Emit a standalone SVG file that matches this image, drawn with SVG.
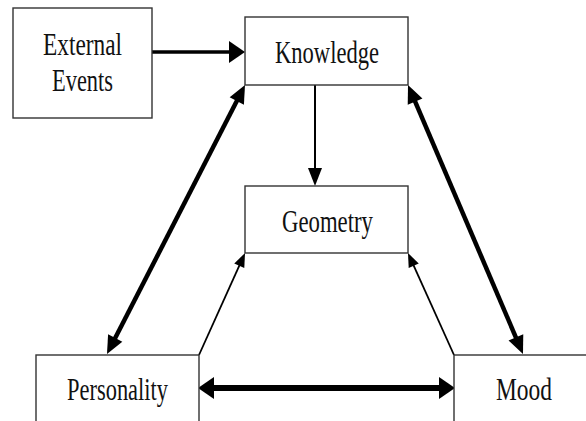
<svg xmlns="http://www.w3.org/2000/svg" width="586" height="421" viewBox="0 0 586 421">
<style>
.box{fill:#fff;stroke:#333;stroke-width:1.4}
.t{font-family:"Liberation Serif","Times New Roman",serif;font-size:31px;fill:#111}
.ln{fill:none;stroke:#000;stroke-linecap:butt}
</style>
<defs>
<marker id="hBig" markerUnits="userSpaceOnUse" markerWidth="16" markerHeight="22" refX="2" refY="11" orient="auto-start-reverse" overflow="visible">
<path d="M0,0 L16,11 L0,22 Z" fill="#000"/>
</marker>
<marker id="hMid" markerUnits="userSpaceOnUse" markerWidth="18" markerHeight="16" refX="2" refY="8" orient="auto-start-reverse" overflow="visible">
<path d="M0,0 L18,8 L0,16 Z" fill="#000"/>
</marker>
<marker id="hV" markerUnits="userSpaceOnUse" markerWidth="18" markerHeight="14" refX="2" refY="7" orient="auto" overflow="visible">
<path d="M0,0 L18,7 L0,14 Z" fill="#000"/>
</marker>
<marker id="hSm" markerUnits="userSpaceOnUse" markerWidth="14" markerHeight="11" refX="2" refY="5.5" orient="auto" overflow="visible">
<path d="M0,0 L14,5.5 L0,11 Z" fill="#000"/>
</marker>
</defs>
<rect width="586" height="421" fill="#fff"/>
<g id="connectors">
<path class="ln" d="M152,52 L231,52" stroke-width="3.5" marker-end="url(#hBig)"/>
<path class="ln" d="M315,85 L315,170" stroke-width="2" marker-end="url(#hV)"/>
<path class="ln" d="M212,388 L441,388" stroke-width="6" marker-start="url(#hBig)" marker-end="url(#hBig)"/>
<path class="ln" d="M237.7,99.2 L114.3,339.8" stroke-width="4.5" marker-start="url(#hMid)" marker-end="url(#hMid)"/>
<path class="ln" d="M414.3,99.7 L516.7,339.3" stroke-width="4.5" marker-start="url(#hMid)" marker-end="url(#hMid)"/>
<path class="ln" d="M199,355 L240.1,263.9" stroke-width="1.8" marker-end="url(#hSm)"/>
<path class="ln" d="M454,355 L412.9,263.9" stroke-width="1.8" marker-end="url(#hSm)"/>
</g>
<g id="external-events">
<rect class="box" x="13" y="8" width="139" height="110"/>
<text class="t" x="43" y="55" textLength="79" lengthAdjust="spacingAndGlyphs">External</text>
<text class="t" x="52" y="91" textLength="61" lengthAdjust="spacingAndGlyphs">Events</text>
</g>
<g id="knowledge">
<rect class="box" x="245" y="17" width="163" height="68"/>
<text class="t" x="275" y="63" textLength="104" lengthAdjust="spacingAndGlyphs">Knowledge</text>
</g>
<g id="geometry">
<rect class="box" x="245" y="186" width="163" height="67"/>
<text class="t" x="282" y="232" textLength="91" lengthAdjust="spacingAndGlyphs">Geometry</text>
</g>
<g id="personality">
<rect class="box" x="36" y="355" width="163" height="80"/>
<text class="t" x="67" y="400" textLength="101" lengthAdjust="spacingAndGlyphs">Personality</text>
</g>
<g id="mood">
<rect class="box" x="454" y="355" width="140" height="80"/>
<text class="t" x="496" y="400" textLength="56" lengthAdjust="spacingAndGlyphs">Mood</text>
</g>
</svg>
